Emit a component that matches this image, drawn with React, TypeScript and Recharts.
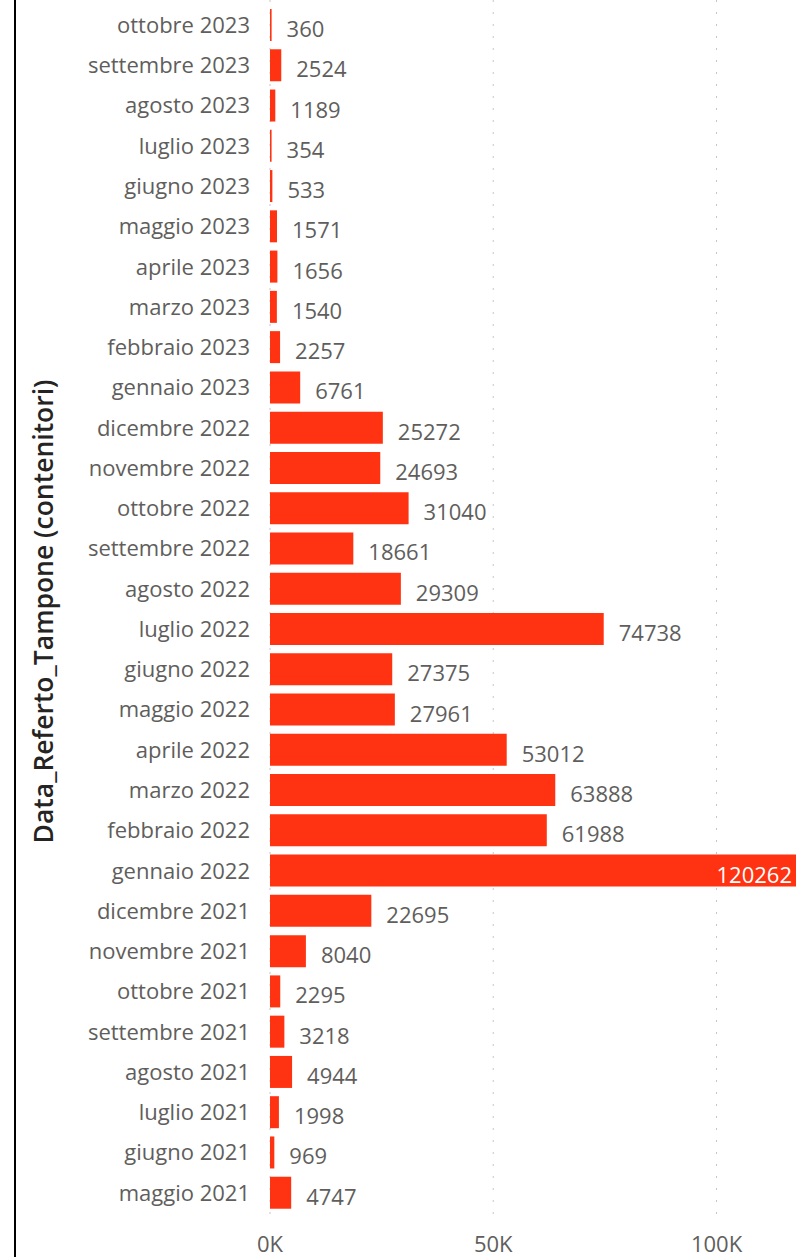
import React from "react";
import { BarChart, Bar, XAxis, YAxis, CartesianGrid, LabelList } from "recharts";

const categories = [
  "ottobre 2023", "settembre 2023", "agosto 2023", "luglio 2023", "giugno 2023",
  "maggio 2023", "aprile 2023", "marzo 2023", "febbraio 2023", "gennaio 2023",
  "dicembre 2022", "novembre 2022", "ottobre 2022", "settembre 2022", "agosto 2022",
  "luglio 2022", "giugno 2022", "maggio 2022", "aprile 2022", "marzo 2022",
  "febbraio 2022", "gennaio 2022", "dicembre 2021", "novembre 2021", "ottobre 2021",
  "settembre 2021", "agosto 2021", "luglio 2021", "giugno 2021", "maggio 2021",
];

const values = [
  360, 2524, 1189, 354, 533,
  1571, 1656, 1540, 2257, 6761,
  25272, 24693, 31040, 18661, 29309,
  74738, 27375, 27961, 53012, 63888,
  61988, 120262, 22695, 8040, 2295,
  3218, 4944, 1998, 969, 4747,
];

const xTicks = [0, 50000, 100000];
const xTickLabels = ["0K", "50K", "100K"];

const axisTitle = "Data_Referto_Tampone (contenitori)";

const data = categories.map((c, i) => ({ name: c, value: values[i] }));

const FONT = "'Segoe UI', 'Open Sans', sans-serif";
const TEXT = "#605E5C";
const BAR = "#FF3311";
const VIEW_W = 796;

const ValueLabel = (props: any) => {
  const { x, y, width, height, value } = props;
  const end = x + width;
  const approxW = String(value).length * 12;
  const inside = end + 15 + approxW > VIEW_W;
  const cy = y + height / 2 + 3;
  if (inside) {
    return (
      <text x={end - 15} y={cy} textAnchor="end" dominantBaseline="central"
        fill="#FFFFFF" fontSize={22} fontFamily={FONT}>{value}</text>
    );
  }
  return (
    <text x={end + 15} y={cy} textAnchor="start" dominantBaseline="central"
      fill={TEXT} fontSize={22} fontFamily={FONT}>{value}</text>
  );
};

const TitleLabel = (props: any) => {
  const vb = props.viewBox || {};
  const cy = (vb.y ?? 0) + (vb.height ?? 0) / 2;
  const cx = 43;
  return (
    <text x={cx} y={cy} transform={`rotate(-90 ${cx} ${cy})`} textAnchor="middle"
      dominantBaseline="central" fill="#252423" fontSize={26.5} fontWeight={600} fontFamily={FONT}>
      {axisTitle}
    </text>
  );
};

export default function App() {
  return (
    <div style={{ position: "absolute", left: 0, top: 0, width: VIEW_W, height: 1257, overflow: "hidden", background: "#fff" }}>
      <div style={{ position: "absolute", left: 14, top: 0, width: 2, height: 1257, background: "#000" }} />
      <BarChart
        width={821}
        height={1257}
        data={data}
        layout="vertical"
        margin={{ top: 0, right: 14, bottom: 0, left: 0 }}
        barSize={32}
      >
        <CartesianGrid horizontal={false} vertical stroke="#C8C6C4" strokeDasharray="2 10" />
        <XAxis
          type="number"
          domain={[0, "dataMax"]}
          ticks={xTicks}
          tickFormatter={(v: number) => xTickLabels[xTicks.indexOf(v)] ?? String(v)}
          axisLine={false}
          tickLine={false}
          tickSize={0}
          tickMargin={13}
          height={34}
          tick={{ fill: TEXT, fontSize: 22, fontFamily: FONT }}
          interval={0}
        />
        <YAxis
          type="category"
          dataKey="name"
          width={270}
          axisLine={false}
          tickLine={false}
          tickSize={0}
          tickMargin={20}
          interval={0}
          padding={{ top: 5, bottom: 10 }}
          tick={{ fill: TEXT, fontSize: 22, fontFamily: FONT }}
          label={<TitleLabel />}
        />
        <Bar dataKey="value" fill={BAR} isAnimationActive={false}>
          <LabelList dataKey="value" content={<ValueLabel />} />
        </Bar>
      </BarChart>
    </div>
  );
}
